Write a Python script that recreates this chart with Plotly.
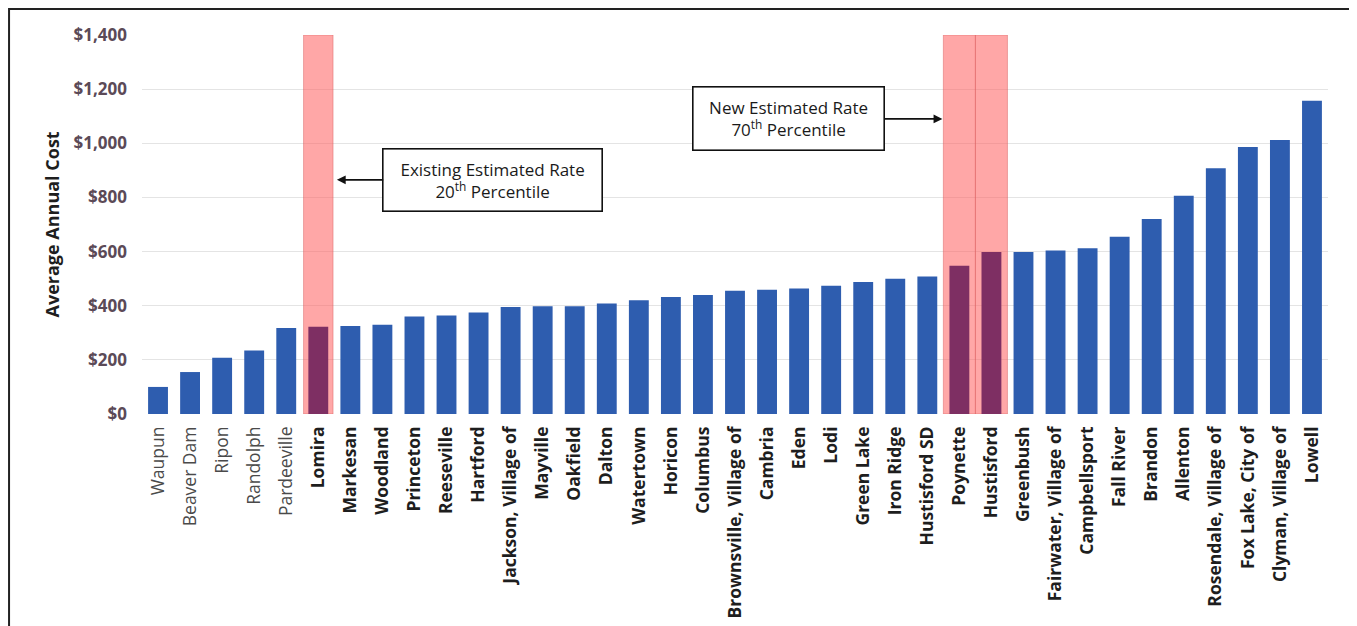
import plotly.graph_objects as go

towns = ["Waupun", "Beaver Dam", "Ripon", "Randolph", "Pardeeville", "Lomira",
         "Markesan", "Woodland", "Princeton", "Reeseville", "Hartford",
         "Jackson, Village of", "Mayville", "Oakfield", "Dalton", "Watertown",
         "Horicon", "Columbus", "Brownsville, Village of", "Cambria", "Eden",
         "Lodi", "Green Lake", "Iron Ridge", "Hustisford SD", "Poynette",
         "Hustisford", "Greenbush", "Fairwater, Village of", "Campbellsport",
         "Fall River", "Brandon", "Allenton", "Rosendale, Village of",
         "Fox Lake, City of", "Clyman, Village of", "Lowell"]
costs = [100, 155, 208, 235, 318, 322, 325, 330, 360, 364, 375, 395, 398, 398,
         408, 420, 432, 440, 455, 459, 464, 474, 488, 500, 508, 548, 598, 598,
         604, 612, 655, 720, 806, 908, 986, 1012, 1157]
highlight = ["Lomira", "Poynette", "Hustisford"]
band_top = [1400, 1400, 1400]
light_labels = ["Waupun", "Beaver Dam", "Ripon", "Randolph", "Pardeeville"]
y_ticks = [0, 200, 400, 600, 800, 1000, 1200, 1400]
y_tick_labels = ["$0", "$200", "$400", "$600", "$800", "$1,000", "$1,200", "$1,400"]
note_existing = "Existing Estimated Rate<br>20<sup>th</sup> Percentile"
note_new = "New Estimated Rate<br>70<sup>th</sup> Percentile"

BLUE = "#2E5DAF"
PURPLE = "#7E2F63"
FONT = "Open Sans"

bar_colors = [PURPLE if t in highlight else BLUE for t in towns]
tick_text = [("<span style='color:#4A4A4A'>%s</span>" % t) if t in light_labels
             else ("<b>%s</b>" % t) for t in towns]

fig = go.Figure()
fig.add_trace(go.Bar(
    x=highlight, y=band_top, width=[0.92, 1.0, 1.0],
    marker=dict(color="rgba(255,100,100,0.57)",
                line=dict(color="rgba(215,90,90,0.45)", width=1)),
    hoverinfo="skip", showlegend=False))
fig.add_trace(go.Bar(
    x=towns, y=costs, width=0.62,
    marker=dict(color=bar_colors, line=dict(width=0)),
    showlegend=False))

fig.update_layout(
    width=1349, height=618,
    margin=dict(l=134, r=29, t=27, b=211.5, autoexpand=False),
    paper_bgcolor="white", plot_bgcolor="white",
    barmode="overlay",
    font=dict(family=FONT, color="#1E1E1E"),
    showlegend=False,
)
fig.update_xaxes(
    categoryorder="array", categoryarray=towns,
    tickmode="array", tickvals=towns, ticktext=tick_text,
    tickangle=-90, tickfont=dict(size=17.5, family=FONT, color="#1E1E1E"),
    ticklabelstandoff=8, automargin=False,
    showgrid=False, showline=False, zeroline=False, ticks="",
    range=[-0.5, len(towns) - 0.5],
)
fig.update_yaxes(
    range=[0, 1400], tickmode="array", tickvals=y_ticks, ticktext=y_tick_labels,
    tickfont=dict(size=17, family=FONT, color="#5B4A57", weight="bold"),
    ticklabelstandoff=14, automargin=False,
    showgrid=True, gridcolor="#E4E4E4", gridwidth=1,
    zeroline=False, showline=False, ticks="",
)

fig.add_annotation(
    xref="paper", yref="paper", x=-0.0759, y=0.5, showarrow=False,
    xanchor="center", yanchor="middle",
    text="<b>Average Annual Cost</b>", textangle=-90,
    font=dict(size=18, family=FONT, color="#1E1E1E"),
)
fig.add_annotation(
    x=5.58, y=865, xref="x", yref="y", axref="pixel", ayref="pixel",
    ax=156, ay=0, text=note_existing, showarrow=True,
    width=216, height=59,
    arrowhead=2, arrowsize=1.1, arrowwidth=1.6, arrowcolor="#111111",
    bgcolor="white", bordercolor="#111111", borderwidth=1.6, borderpad=1,
    font=dict(size=17, family=FONT, color="#1A1A1A"),
)
fig.add_annotation(
    x=24.47, y=1090, xref="x", yref="y", axref="pixel", ayref="pixel",
    ax=-154, ay=0, text=note_new, showarrow=True,
    width=188, height=60,
    arrowhead=2, arrowsize=1.1, arrowwidth=1.6, arrowcolor="#111111",
    bgcolor="white", bordercolor="#111111", borderwidth=1.6, borderpad=1,
    font=dict(size=17, family=FONT, color="#1A1A1A"),
)
fig.add_shape(
    type="rect", xref="paper", yref="paper",
    x0=-0.1121, x1=1.0211, y0=-0.62, y1=1.0685,
    line=dict(color="#222222", width=2), fillcolor="rgba(0,0,0,0)",
    layer="above",
)

fig.write_html("out.html")
